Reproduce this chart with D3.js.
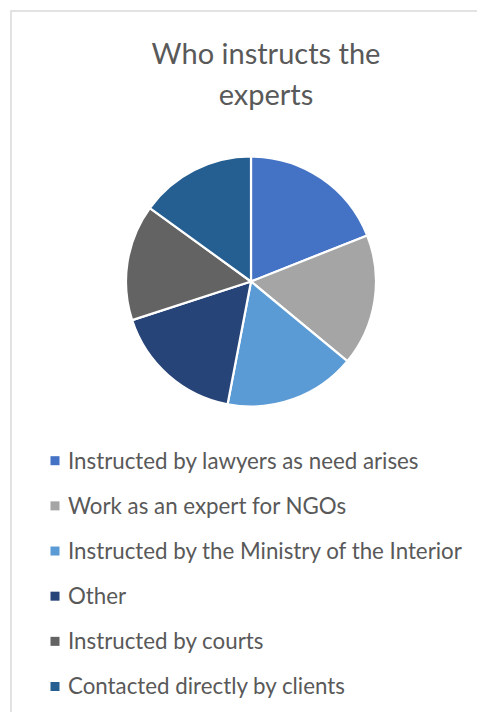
<!DOCTYPE html>
<html>
<head>
<meta charset="utf-8">
<script src="https://cdn.jsdelivr.net/npm/d3@7"></script>
<style>
  body { margin: 0; background: #fff; }
  svg { display: block; }
</style>
</head>
<body>
<div id="chart"></div>
<script>
// data (percent of respondents)
var categories = [
    "Instructed by lawyers as need arises",
    "Work as an expert for NGOs",
    "Instructed by the Ministry of the Interior",
    "Other",
    "Instructed by courts",
    "Contacted directly by clients"
];
var values = [19, 17, 17, 17, 15, 15];
var colors = ["#4472C4", "#A5A5A5", "#5B9BD5", "#264478", "#636363", "#255E91"];
var titleLines = ["Who instructs the", "experts"];

var w = 477, h = 712;
var font = "Lato, 'Open Sans', sans-serif";

var svg = d3.select("#chart").append("svg")
    .attr("width", w)
    .attr("height", h);

// chart frame (only top and left edges are inside the window)
svg.append("rect")
    .attr("x", 11)
    .attr("y", 11)
    .attr("width", w + 20)
    .attr("height", h + 20)
    .attr("fill", "#fff")
    .attr("stroke", "#D9D9D9")
    .attr("stroke-width", 1.5);

// title
svg.append("text")
    .attr("text-anchor", "middle")
    .attr("font-family", font)
    .attr("font-size", 29)
    .attr("fill", "#595959")
    .selectAll("tspan")
    .data(titleLines)
    .join("tspan")
    .attr("x", 266)
    .attr("y", function (d, i) { return 64 + i * 41; })
    .text(function (d) { return d; });

// pie
var cx = 251, cy = 281.5, r = 125;
var pie = d3.pie().sort(null).value(function (d) { return d; });
var arc = d3.arc().innerRadius(0).outerRadius(r);

svg.append("g")
    .attr("transform", "translate(" + cx + "," + cy + ")")
    .selectAll("path")
    .data(pie(values))
    .join("path")
    .attr("d", arc)
    .attr("fill", function (d, i) { return colors[i]; })
    .attr("stroke", "#fff")
    .attr("stroke-width", 2.2)
    .attr("stroke-linejoin", "round");

// legend
var y = d3.scalePoint()
    .domain(categories)
    .range([460.7, 686.5]);

var legend = svg.append("g")
    .selectAll("g")
    .data(categories)
    .join("g")
    .attr("transform", function (d) { return "translate(0," + y(d) + ")"; });

legend.append("rect")
    .attr("x", 50.5)
    .attr("y", -4.5)
    .attr("width", 9)
    .attr("height", 9)
    .attr("fill", function (d, i) { return colors[i]; });

legend.append("text")
    .attr("x", 68)
    .attr("dy", "0.35em")
    .attr("font-family", font)
    .attr("font-size", 22.3)
    .attr("fill", "#595959")
    .text(function (d) { return d; });
</script>
</body>
</html>
